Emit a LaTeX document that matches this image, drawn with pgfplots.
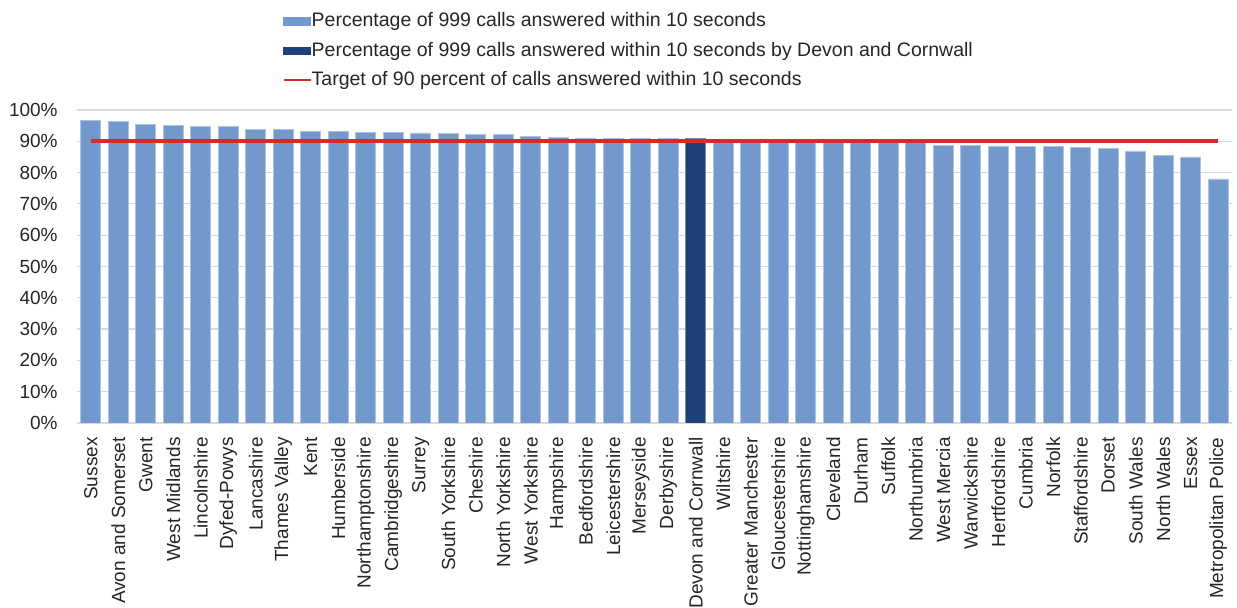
\documentclass[border=0pt]{standalone}
\usepackage{fontspec}
\setmainfont{Liberation Sans}
\usepackage{pgfplots}
\pgfplotsset{compat=1.18}
\definecolor{lightbar}{RGB}{115,153,204}
\definecolor{darkbar}{RGB}{31,63,119}
\definecolor{targetred}{RGB}{210,45,45}
\definecolor{gridgray}{RGB}{217,217,217}
\begin{document}
\begin{tikzpicture}
\useasboundingbox (-38.5pt,-92.5pt) rectangle (580pt,211.5pt);
\begin{axis}[
  scale only axis,
  width=577.5pt, height=156.5pt,
  xmin=-0.5, xmax=41.5,
  ymin=0, ymax=100,
  ybar, bar width=10pt, bar shift=0pt,
  xtick={0,...,41},
  xticklabels={Sussex,Avon and Somerset,Gwent,West Midlands,Lincolnshire,Dyfed-Powys,Lancashire,Thames Valley,Kent,Humberside,Northamptonshire,Cambridgeshire,Surrey,South Yorkshire,Cheshire,North Yorkshire,West Yorkshire,Hampshire,Bedfordshire,Leicestershire,Merseyside,Derbyshire,Devon and Cornwall,Wiltshire,Greater Manchester,Gloucestershire,Nottinghamshire,Cleveland,Durham,Suffolk,Northumbria,West Mercia,Warwickshire,Hertfordshire,Cumbria,Norfolk,Staffordshire,Dorset,South Wales,North Wales,Essex,Metropolitan Police},
  ytick={0,10,...,100},
  yticklabels={0\%,10\%,20\%,30\%,40\%,50\%,60\%,70\%,80\%,90\%,100\%},
  major tick length=0pt,
  axis line style={draw=none},
  ymajorgrids, grid style={gridgray, line width=0.6pt},
  tick label style={font=\fontsize{9.5}{11}\selectfont, text=black!85},
  yticklabel style={anchor=east, inner sep=0pt, xshift=-9.5pt},
  xticklabel style={rotate=90, anchor=east, inner sep=0pt},
  xticklabel shift=7pt,
  legend style={at={(0.1781,1.3137)}, anchor=north west, draw=none, fill=none,
    inner sep=0pt, outer sep=0pt, row sep=5pt,
    font=\fontsize{9.75}{11}\selectfont, text=black!85,
    nodes={inner sep=0pt, anchor=west, text height=7.5pt, text depth=2.2pt},
    /tikz/every even column/.append style={column sep=1pt}},
  legend cell align=left,
]
\addplot[fill=lightbar, draw=lightbar!60!white, line width=0.3pt,
  legend image code/.code={\fill[lightbar] (0pt,-1.9pt) rectangle (13.5pt,1.9pt);}]
  coordinates {
  (0,96.6) (1,96.4) (2,95.4) (3,95.2) (4,94.7) (5,94.7) (6,93.8) (7,93.8)
  (8,93.2) (9,93.1) (10,92.8) (11,92.8) (12,92.7) (13,92.6) (14,92.3)
  (15,92.2) (16,91.6) (17,91.2) (18,91.1) (19,91.0) (20,91.0) (21,91.0)
  (23,90.7) (24,90.6) (25,90.5) (26,90.4) (27,90.2) (28,90.1) (29,90.1)
  (30,90.0) (31,88.8) (32,88.8) (33,88.5) (34,88.3) (35,88.3) (36,88.0)
  (37,87.7) (38,86.9) (39,85.5) (40,85.0) (41,78.0)
  };
\addlegendentry{Percentage of 999 calls answered within 10 seconds}
\addplot[fill=darkbar, draw=darkbar!60!white, line width=0.3pt,
  legend image code/.code={\fill[darkbar] (0pt,-1.9pt) rectangle (13.5pt,1.9pt);}]
  coordinates {(22,90.8)};
\addlegendentry{Percentage of 999 calls answered within 10 seconds by Devon and Cornwall}
\addplot[sharp plot, draw=targetred, line width=2pt, mark=none,
  legend image code/.code={\draw[targetred, line width=1pt] (0pt,0pt) -- (13.5pt,0pt);}]
  coordinates {(0,90) (41,90)};
\addlegendentry{Target of 90 percent of calls answered within 10 seconds}
\end{axis}
\end{tikzpicture}
\end{document}
